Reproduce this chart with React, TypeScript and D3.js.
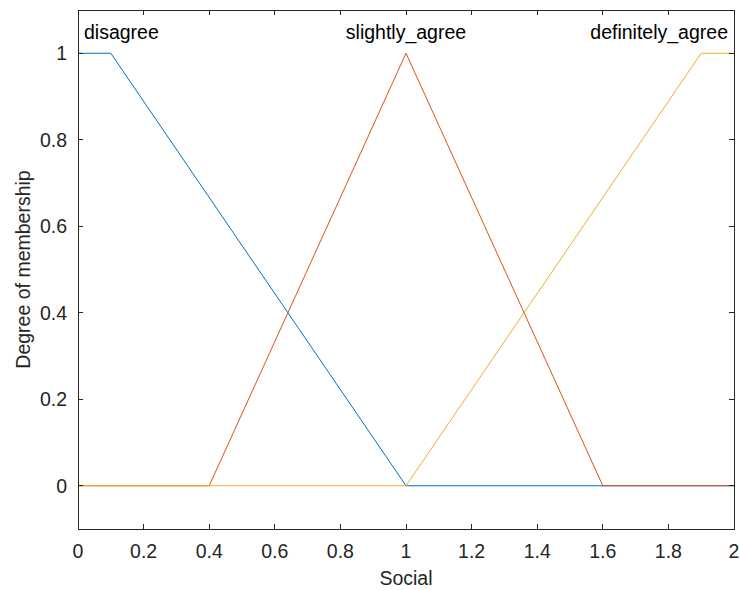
import React, { useRef, useEffect } from "react";
import * as d3 from "d3";

// Membership functions for "Social"
const mfNames = ["disagree", "slightly_agree", "definitely_agree"];
const mfX = [
  [0, 0.1, 1, 2],
  [0, 0.4, 1, 1.6, 2],
  [0, 1, 1.9, 2],
];
const mfY = [
  [1, 1, 0, 0],
  [0, 0, 1, 0, 0],
  [0, 0, 1, 1],
];
const mfColors = ["#0072BD", "#D95319", "#EDB120"];
const xTicks = [0, 0.2, 0.4, 0.6, 0.8, 1, 1.2, 1.4, 1.6, 1.8, 2];
const yTicks = [0, 0.2, 0.4, 0.6, 0.8, 1];

const App = () => {
  const ref = useRef<SVGSVGElement>(null);
  const width = 740,
    height = 590;

  useEffect(() => {
    const container = ref.current;
    if (!container) return;
    d3.select(container).selectChildren().remove();

    const margin = { top: 10, right: 6, bottom: 61, left: 78 };
    const w = width - margin.left - margin.right,
      h = height - margin.top - margin.bottom;
    const font = "'Liberation Sans', Arial, Helvetica, sans-serif";
    const fontSize = "19.5px";
    const axisColor = "#262626";

    const svg = d3
      .select(container)
      .append("g")
      .attr("transform", `translate(${margin.left}, ${margin.top})`)
      .style("font-family", font);

    const x = d3.scaleLinear().domain([0, 2]).range([0, w]);
    const y = d3.scaleLinear().domain([-0.1, 1.1]).range([h, 0]);

    // Lines
    const line = d3
      .line<[number, number]>()
      .x((d) => x(d[0]))
      .y((d) => y(d[1]));

    mfX.forEach((xs, i) => {
      const pts = xs.map((v, j) => [v, mfY[i][j]] as [number, number]);
      svg
        .append("path")
        .attr("d", line(pts))
        .attr("fill", "none")
        .attr("stroke", mfColors[i])
        .attr("stroke-width", 1);
    });

    // Box
    svg
      .append("rect")
      .attr("x", 0)
      .attr("y", 0)
      .attr("width", w)
      .attr("height", h)
      .attr("fill", "none")
      .attr("stroke", axisColor)
      .attr("stroke-width", 1)
      .attr("shape-rendering", "crispEdges");

    // X ticks (inside, top and bottom)
    const tick = 5;
    xTicks.forEach((t) => {
      svg
        .append("line")
        .attr("x1", x(t))
        .attr("x2", x(t))
        .attr("y1", h)
        .attr("y2", h - tick)
        .attr("stroke", axisColor)
        .attr("shape-rendering", "crispEdges");
      svg
        .append("line")
        .attr("x1", x(t))
        .attr("x2", x(t))
        .attr("y1", 0)
        .attr("y2", tick)
        .attr("stroke", axisColor)
        .attr("shape-rendering", "crispEdges");
      svg
        .append("text")
        .attr("x", x(t))
        .attr("y", h + 29)
        .attr("text-anchor", "middle")
        .style("font-size", fontSize)
        .attr("fill", axisColor)
        .text(String(t));
    });

    // Y ticks
    yTicks.forEach((t) => {
      svg
        .append("line")
        .attr("x1", 0)
        .attr("x2", tick)
        .attr("y1", y(t))
        .attr("y2", y(t))
        .attr("stroke", axisColor)
        .attr("shape-rendering", "crispEdges");
      svg
        .append("line")
        .attr("x1", w)
        .attr("x2", w - tick)
        .attr("y1", y(t))
        .attr("y2", y(t))
        .attr("stroke", axisColor)
        .attr("shape-rendering", "crispEdges");
      svg
        .append("text")
        .attr("x", -11)
        .attr("y", y(t))
        .attr("dy", "0.35em")
        .attr("text-anchor", "end")
        .style("font-size", fontSize)
        .attr("fill", axisColor)
        .text(String(t));
    });

    // MF labels
    const labelAnchor = ["start", "middle", "end"];
    const labelX = [x(0) + 6, x(1), x(2) - 6];
    mfNames.forEach((name, i) => {
      svg
        .append("text")
        .attr("x", labelX[i])
        .attr("y", y(1) - 14)
        .attr("text-anchor", labelAnchor[i])
        .style("font-size", fontSize)
        .attr("fill", "#000")
        .text(name);
    });

    // Axis titles
    svg
      .append("text")
      .attr("x", w / 2)
      .attr("y", h + 56)
      .attr("text-anchor", "middle")
      .style("font-size", fontSize)
      .attr("fill", axisColor)
      .text("Social");

    svg
      .append("text")
      .attr("transform", "rotate(-90)")
      .attr("x", -h / 2)
      .attr("y", -48)
      .attr("text-anchor", "middle")
      .style("font-size", fontSize)
      .attr("fill", axisColor)
      .text("Degree of membership");
  }, []);

  return (
    <svg
      ref={ref}
      width={width}
      height={height}
      style={{ position: "absolute", left: 0, top: 0, background: "#fff" }}
    />
  );
};

export default App;
